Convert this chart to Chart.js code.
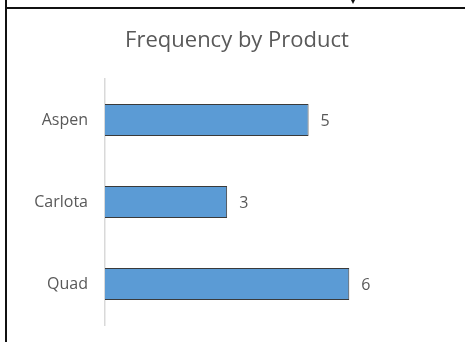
<!DOCTYPE html>
<html>
<head>
<meta charset="utf-8">
<script src="https://cdn.jsdelivr.net/npm/chart.js@4"></script>
<style>
  html, body { margin: 0; padding: 0; background: #fff; }
  #wrap { position: relative; width: 465px; height: 342px; overflow: hidden; }
  #chart { position: absolute; left: 0; top: 0; }
  .edge-left { position: absolute; left: 5px; top: 0; width: 2px; height: 342px; background: #111; }
  .edge-top { position: absolute; left: 5px; top: 7px; width: 460px; height: 2px; background: #111; }
  .marker { position: absolute; left: 351px; top: 0; width: 0; height: 0;
            border-left: 2px solid transparent; border-right: 2px solid transparent; border-top: 4px solid #111; }
</style>
</head>
<body>
<div id="wrap">
  <canvas id="chart" width="465" height="342"></canvas>
  <div class="edge-left"></div>
  <div class="edge-top"></div>
  <div class="marker"></div>
</div>
<script>
// Products and how often each one occurs
const products = ['Aspen', 'Carlota', 'Quad'];
const frequency = [5, 3, 6];
const chartTitle = 'Frequency by Product';

const textColor = '#595959';
const fontFamily = "'Open Sans', 'Noto Sans', sans-serif";

// Title centred over the whole framed panel
const panelTitle = {
  id: 'panelTitle',
  afterDraw(chart) {
    const ctx = chart.ctx;
    ctx.save();
    ctx.fillStyle = textColor;
    ctx.font = "22px " + fontFamily;
    ctx.textAlign = 'center';
    ctx.textBaseline = 'alphabetic';
    ctx.fillText(chartTitle, 237, 47);
    ctx.restore();
  }
};

// Writes each bar's value just past its end
const valueLabels = {
  id: 'valueLabels',
  afterDatasetsDraw(chart) {
    const ctx = chart.ctx;
    const meta = chart.getDatasetMeta(0);
    ctx.save();
    ctx.fillStyle = textColor;
    ctx.font = "16px " + fontFamily;
    ctx.textAlign = 'left';
    ctx.textBaseline = 'middle';
    meta.data.forEach((bar, i) => {
      ctx.fillText(String(frequency[i]), bar.x + 12, bar.y + 1);
    });
    ctx.restore();
  }
};

new Chart(document.getElementById('chart'), {
  type: 'bar',
  data: {
    labels: products,
    datasets: [{
      data: frequency,
      backgroundColor: '#5B9BD5',
      borderColor: '#3a3a3a',
      borderWidth: 1,
      borderSkipped: 'start',
      barPercentage: 0.39,
      categoryPercentage: 1
    }]
  },
  options: {
    indexAxis: 'y',
    responsive: false,
    animation: false,
    layout: { padding: { left: 0, right: 75, top: 79, bottom: 17 } },
    plugins: {
      legend: { display: false },
      tooltip: { enabled: false },
      title: { display: false }
    },
    scales: {
      x: {
        display: false,
        min: 0,
        max: 7
      },
      y: {
        afterFit(axis) {
          axis.width = 105;
          // labels sit beside their bars, so no extra room above or below the axis
          axis.paddingTop = 0;
          axis.paddingBottom = 0;
        },
        grid: { display: false, drawTicks: false },
        border: { display: true, color: '#D9D9D9', width: 1.5 },
        ticks: {
          color: textColor,
          padding: 17,
          font: { family: fontFamily, size: 16, lineHeight: 0.01 }
        }
      }
    }
  },
  plugins: [valueLabels, panelTitle]
});
</script>
</body>
</html>
